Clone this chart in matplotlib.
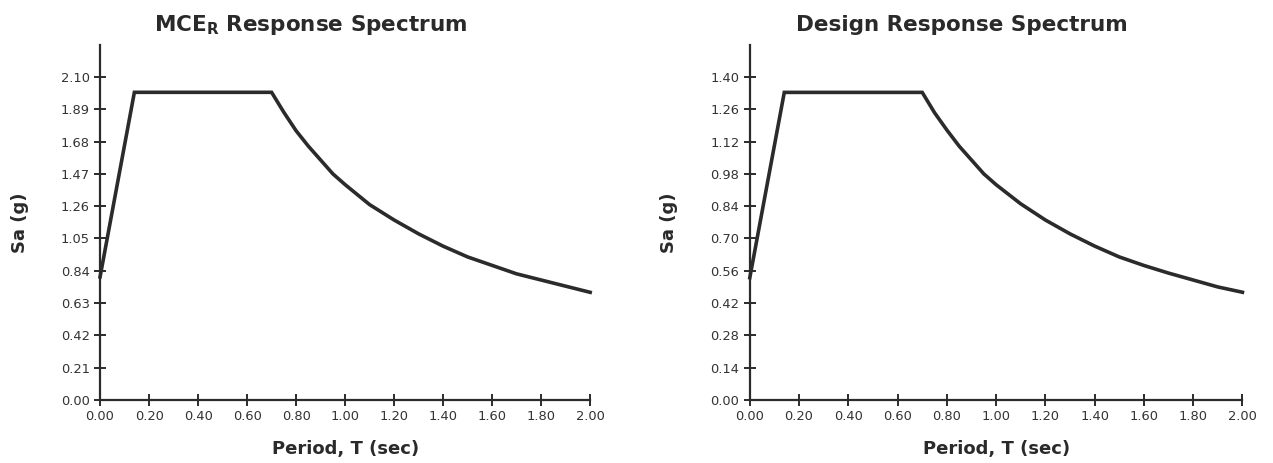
import matplotlib
matplotlib.use("Agg")
import matplotlib.pyplot as plt

# period values (sec)
period = [0.00, 0.14, 0.70, 0.75, 0.80, 0.85, 0.90, 0.95, 1.00, 1.10, 1.20,
          1.30, 1.40, 1.50, 1.60, 1.70, 1.80, 1.90, 2.00]
# MCE_R spectral acceleration (g)
sa_mce = [0.80, 2.00, 2.00, 1.87, 1.75, 1.65, 1.56, 1.47, 1.40, 1.27, 1.17,
          1.08, 1.00, 0.93, 0.875, 0.82, 0.78, 0.74, 0.70]
# design spectral acceleration (g)
sa_design = [0.53, 1.333, 1.333, 1.245, 1.17, 1.10, 1.04, 0.98, 0.933, 0.85, 0.78,
             0.72, 0.667, 0.62, 0.583, 0.55, 0.52, 0.49, 0.467]

x_ticks = [0.0, 0.2, 0.4, 0.6, 0.8, 1.0, 1.2, 1.4, 1.6, 1.8, 2.0]
y_ticks_mce = [0.00, 0.21, 0.42, 0.63, 0.84, 1.05, 1.26, 1.47, 1.68, 1.89, 2.10]
y_ticks_design = [0.00, 0.14, 0.28, 0.42, 0.56, 0.70, 0.84, 0.98, 1.12, 1.26, 1.40]

plt.rcParams["font.family"] = "DejaVu Sans"
plt.rcParams["mathtext.fontset"] = "dejavusans"

INK = "#2b2b2b"
fig = plt.figure(figsize=(12.73, 4.63), dpi=100)
ax1 = fig.add_axes([0.0786, 0.136, 0.385, 0.767])
ax2 = fig.add_axes([0.589, 0.136, 0.387, 0.767])


def draw(ax, sa, yticks, title):
    ax.plot(period, sa, color=INK, lw=2.6, solid_joinstyle="miter", clip_on=False)
    ax.set_xlim(0, 2.0)
    ax.set_ylim(0, yticks[-1] * 355 / 323)
    ax.set_xticks(x_ticks)
    ax.set_yticks(yticks)
    ax.set_xticklabels([f"{v:.2f}" for v in x_ticks])
    ax.set_yticklabels([f"{v:.2f}" for v in yticks])
    for s in ("top", "right"):
        ax.spines[s].set_visible(False)
    for s in ("left", "bottom"):
        ax.spines[s].set_color(INK)
        ax.spines[s].set_linewidth(1.6)
    ax.tick_params(direction="inout", length=9, width=1.4, color=INK,
                   labelsize=9.4, labelcolor="#333333", pad=3)
    ax.set_title(title, x=0.43, y=1.015, fontsize=15.5, fontweight="bold",
                 color="#2a2a2a")
    ax.set_xlabel("Period, T (sec)", fontsize=13, fontweight="bold",
                  color="#2a2a2a", labelpad=12)
    ax.set_ylabel("Sa (g)", fontsize=13, fontweight="bold", color="#2a2a2a")
    ax.yaxis.set_label_coords(-0.145, 0.5)


draw(ax1, sa_mce, y_ticks_mce, r"MCE$_{\mathbf{R}}$ Response Spectrum")
draw(ax2, sa_design, y_ticks_design, "Design Response Spectrum")

fig.savefig("out.png", dpi=100)
